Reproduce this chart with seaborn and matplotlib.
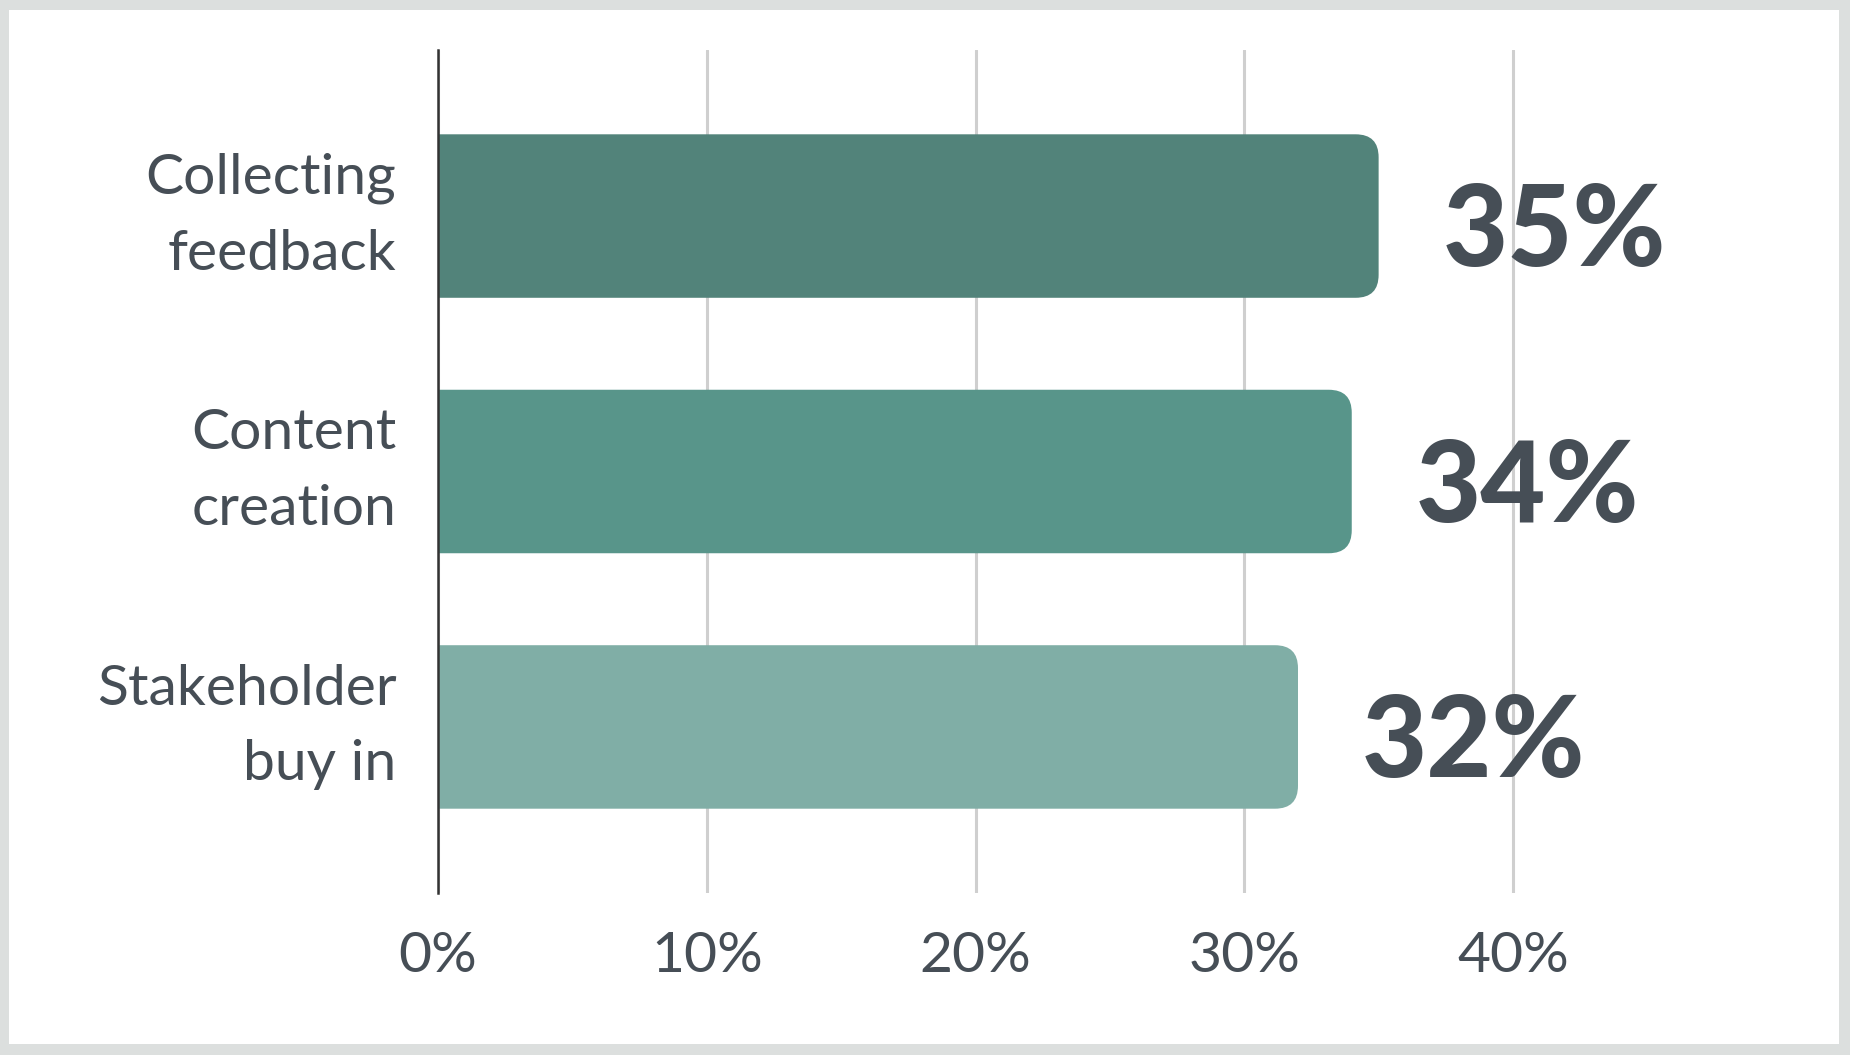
import matplotlib
matplotlib.use("Agg")
import matplotlib.pyplot as plt
from matplotlib.patches import FancyBboxPatch, Rectangle
import seaborn as sns
import pandas as pd

# chart data
categories = ["Collecting\nfeedback", "Content\ncreation", "Stakeholder\nbuy in"]
values = [35, 34, 32]
value_labels = ["35%", "34%", "32%"]
bar_colors = ["#52837a", "#58958a", "#80aea6"]
tick_values = [0, 10, 20, 30, 40]
tick_labels = ["0%", "10%", "20%", "30%", "40%"]

TEXT = "#464e56"
W, H = 1850, 1055

sns.set_theme(style="white")
plt.rcParams["font.family"] = ["Lato", "DejaVu Sans"]

df = pd.DataFrame({"category": categories, "value": values})

fig = plt.figure(figsize=(W / 100, H / 100), dpi=100)
fig.patch.set_facecolor("#dcdfde")
# white card inside the grey frame
fig.patches.append(Rectangle((9 / W, 11 / H), (W - 9 - 11) / W, (H - 10 - 11) / H,
                             transform=fig.transFigure, facecolor="white",
                             edgecolor="none", zorder=-10))

left, right = 438 / W, 1728 / W
bottom, top = (H - 893) / H, (H - 50) / H
ax = fig.add_axes([left, bottom, right - left, top - bottom])
ax.set_facecolor("none")

sns.barplot(data=df, x="value", y="category", hue="category",
            palette=bar_colors, saturation=1, width=0.64, legend=False,
            ax=ax, zorder=2)

ax.set_xlim(0, 48)
ax.set_ylim(2.65, -0.65)

# round the right end of each bar
ax_w_px = (right - left) * W
ax_h_px = (top - bottom) * H
px_x = ax_w_px / 48
px_y = ax_h_px / 3.3
r_px = 23
rx = r_px / px_x
ry = r_px / px_y
for p in list(ax.patches):
    x, y = p.get_x(), p.get_y()
    w, h = p.get_width(), p.get_height()
    fc = p.get_facecolor()
    p.remove()
    ax.add_patch(FancyBboxPatch((x - rx, y), w + rx, h,
                                boxstyle=f"round,pad=0,rounding_size={rx}",
                                mutation_aspect=ry / rx, facecolor=fc,
                                edgecolor="none", zorder=2))

ax.set_xticks(tick_values)
ax.set_xticklabels(tick_labels)
ax.xaxis.grid(True, color="#cfcfcf", linewidth=2.2, zorder=0)
ax.yaxis.grid(False)
ax.set_axisbelow(True)
ax.tick_params(axis="x", length=0, pad=27, labelsize=41, labelcolor=TEXT)
ax.tick_params(axis="y", length=0, pad=30, labelsize=41, labelcolor=TEXT)
for lbl in ax.get_yticklabels():
    lbl.set_linespacing(1.6)
    lbl.set_ha("right")
    lbl.set_va("center")

ax.set_xlabel("")
ax.set_ylabel("")
for side in ["top", "right", "bottom"]:
    ax.spines[side].set_visible(False)
ax.spines["left"].set_color("#333333")
ax.spines["left"].set_linewidth(1.8)
ax.spines["left"].set_zorder(3)

# value labels next to bars
for i, (v, lab) in enumerate(zip(values, value_labels)):
    ax.annotate(lab, xy=(v, i), xytext=(46, -6), textcoords="offset points",
                ha="left", va="center_baseline", fontsize=81,
                fontweight="black", color=TEXT)

fig.savefig("out.png", dpi=100, facecolor=fig.get_facecolor())
